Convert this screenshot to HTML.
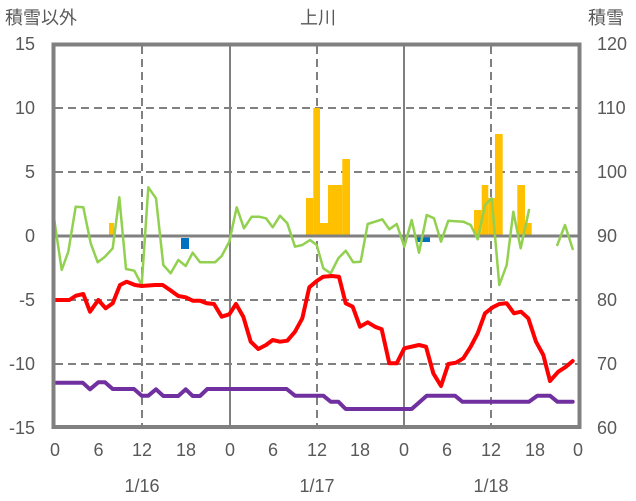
<!DOCTYPE html>
<html><head><meta charset="utf-8"><style>
body{margin:0;background:#fff;}
svg{display:block;font-family:"Liberation Sans","Noto Sans CJK JP",sans-serif;}
</style></head><body>
<svg width="636" height="501" viewBox="0 0 636 501" xmlns="http://www.w3.org/2000/svg">
<g stroke="#808080" stroke-width="2" stroke-dasharray="8,5" fill="none">
<line x1="55" y1="108" x2="578" y2="108"/>
<line x1="55" y1="172" x2="578" y2="172"/>
<line x1="55" y1="300" x2="578" y2="300"/>
<line x1="55" y1="364" x2="578" y2="364"/>
<line x1="142" y1="46" x2="142" y2="426"/>
<line x1="317" y1="46" x2="317" y2="426"/>
<line x1="491" y1="46" x2="491" y2="426"/>
</g>
<g stroke="#808080" stroke-width="2">
<line x1="230" y1="46" x2="230" y2="426"/>
<line x1="404" y1="46" x2="404" y2="426"/>
</g>
<g fill="#FFC000">
<rect x="109" y="223" width="5" height="13"/>
<rect x="306" y="198" width="7.3" height="38"/>
<rect x="313.3" y="108" width="6.7" height="128"/>
<rect x="320" y="223" width="8" height="13"/>
<rect x="328" y="185" width="14.3" height="51"/>
<rect x="342.3" y="159" width="7.7" height="77"/>
<rect x="474" y="210" width="7.7" height="26"/>
<rect x="481.7" y="185" width="6.6" height="51"/>
<rect x="488.3" y="198" width="6.7" height="38"/>
<rect x="495" y="134" width="7.7" height="102"/>
<rect x="517.3" y="185" width="7.7" height="51"/>
<rect x="525" y="223" width="6.7" height="13"/>
</g>
<g fill="#0070C0">
<rect x="181" y="238" width="8" height="11"/>
<rect x="417" y="237" width="13" height="5"/>
</g>
<line x1="55" y1="236" x2="578" y2="236" stroke="#808080" stroke-width="3"/>
<g fill="none" stroke-linejoin="round" stroke-linecap="round">
<polyline stroke="#92D050" stroke-width="2.5" points="54,218 61.7,270 68.3,251.7 75.7,206.7 83.3,207.3 90.7,243.3 97.7,262.3 105,256.7 112.7,248.3 119.3,197.3 126,269 134.3,270.7 141.7,285 148.3,187.3 156,198.3 163.3,265 170.7,273.3 178.3,260 185.7,266 192.7,252.7 200,262.3 215,262.3 221.7,256 229.3,241.7 236.7,207.3 244,228.3 251.7,216.7 259,216.7 266,218.3 272.7,227.3 280,215.7 287.3,223.3 295,246.7 302.3,245 310,240 316.7,245 323.3,268.3 330.7,273.3 338.3,258.3 345.7,250.7 353.3,262.3 360.7,261.7 367.7,224 375,221.7 382.3,219.3 389.3,229.3 396.7,224 404.3,246.7 411.7,220 419,252.7 426.7,215 434,218.3 441,241.7 448.3,220.7 463.3,221.7 470.7,225 477.7,239.3 485,205 491.7,198.3 499.3,285 506.7,265 513.3,211.7 520.7,248.3 529,210"/>
<polyline stroke="#92D050" stroke-width="2.5" points="557.3,245 565,225 572.7,249"/>
<polyline stroke="#FF0000" stroke-width="4" points="54,300 69.3,300 76,295.7 83.3,294 90,311.7 98.3,300 105.7,308.3 112.7,303.3 120,285 126.7,281.7 135,285 141.7,286 155,285 162.7,285 170,290 178.3,296 185.7,297.3 192.7,300.7 200,300.7 206.7,303.3 214,304 221.7,316.7 229.3,314.3 236,304 243.3,316.7 250.7,341.7 258.3,349 266,345 272.7,340 280,341.7 287.3,340.7 295,331.7 302.3,318.3 309.3,287.3 316.7,281 323.3,276.7 331.7,276 339,276.7 345.7,303.3 352.7,306.7 360,326.7 367.7,322.3 375,326.7 381.7,329.3 389.3,363.3 396.7,363.3 404.3,348.3 419,345 426,346.7 433.3,373.3 441,386 448.3,364 456,362.7 463.3,358.3 470.7,346.7 477.7,333.3 485,313.3 492.7,307.3 499.3,304 506.7,303.3 514,313.3 521,311.7 528.3,318.3 536,341.7 543.3,355 550,381 558.3,371.7 566,366.7 572.7,361"/>
<polyline stroke="#7030A0" stroke-width="4" points="54,382.7 82.7,382.7 90,389.3 98.3,382.3 105,382.3 112.7,389 134,389 141.7,395.7 148.3,395.7 156,389.3 163.3,396 178.3,396 185.7,389.3 192.7,396 200,396 207.3,389 286.7,389 295,395.7 323.3,395.7 330.7,401.7 338.3,401.7 345.7,409 411.7,409 426.7,395.7 455,395.7 462.3,401.7 529,401.7 537.3,395.7 550,395.7 557.3,401.7 572.7,401.7"/>
</g>
<rect x="53.5" y="44.5" width="526" height="382.5" fill="none" stroke="#808080" stroke-width="4"/>
<g fill="#595959" font-size="18">
<text x="5" y="24">積雪以外</text>
<text x="318" y="24" text-anchor="middle">上川</text>
<text x="588" y="24">積雪</text>
</g>
<g fill="#595959" font-size="18" text-anchor="end">
<text x="35" y="50">15</text><text x="35" y="114">10</text><text x="35" y="178">5</text>
<text x="35" y="242">0</text><text x="35" y="306">-5</text><text x="35" y="370">-10</text><text x="35" y="434">-15</text>
</g>
<g fill="#595959" font-size="18">
<text x="597" y="50">120</text><text x="597" y="114">110</text><text x="597" y="178">100</text>
<text x="597" y="242">90</text><text x="597" y="306">80</text><text x="597" y="370">70</text><text x="597" y="434">60</text>
</g>
<g fill="#595959" font-size="18" text-anchor="middle">
<text x="55" y="456">0</text><text x="98.5" y="456">6</text><text x="142" y="456">12</text><text x="186" y="456">18</text>
<text x="230" y="456">0</text><text x="273" y="456">6</text><text x="317" y="456">12</text><text x="360" y="456">18</text>
<text x="404" y="456">0</text><text x="447" y="456">6</text><text x="491" y="456">12</text><text x="535" y="456">18</text>
<text x="578" y="456">0</text>
<text x="142" y="492">1/16</text><text x="317" y="492">1/17</text><text x="491" y="492">1/18</text>
</g>
</svg>
</body></html>
